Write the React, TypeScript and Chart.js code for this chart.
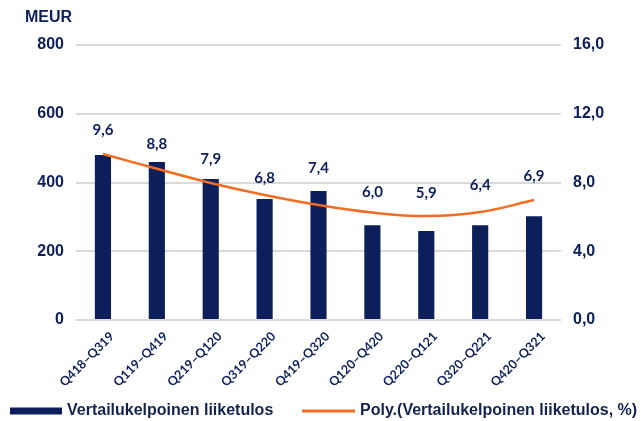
import React, { useEffect, useRef } from 'react';
import { Chart, registerables } from 'chart.js';

Chart.register(...registerables);

const categories = [
  'Q418–Q319',
  'Q119–Q419',
  'Q219–Q120',
  'Q319–Q220',
  'Q419–Q320',
  'Q120–Q420',
  'Q220–Q121',
  'Q320–Q221',
  'Q420–Q321',
];
const liiketulos = [480, 460, 410, 352, 375, 276, 259, 276, 302];
const percentValues = [9.6, 8.8, 7.9, 6.8, 7.4, 6.0, 5.9, 6.4, 6.9];
const polyTrend = [9.66, 8.8, 7.97, 7.27, 6.69, 6.25, 6.05, 6.28, 6.98];
const leftAxis = { min: 0, max: 800, step: 200 };
const rightAxis = { min: 0, max: 16, step: 4 };
const barLabel = 'Vertailukelpoinen liiketulos';
const lineLabel = 'Poly.(Vertailukelpoinen liiketulos, %)';
const unitLabel = 'MEUR';

const NAVY = '#0c1f5b';
const ORANGE = '#f36c21';
const GRID = '#d9d9d9';
const AXIS_FONT = '"Liberation Sans", Arial';

const fmt = (v: number) => v.toFixed(1).replace('.', ',');

const overlayPlugin = {
  id: 'overlay',
  afterDatasetsDraw(chart: any) {
    const { ctx } = chart;
    const x = chart.scales.x;
    const y1 = chart.scales.y1;
    ctx.save();
    ctx.fillStyle = NAVY;
    ctx.font = 'bold 15px Lato';
    ctx.textAlign = 'center';
    ctx.textBaseline = 'middle';
    percentValues.forEach((v, i) => {
      ctx.fillText(fmt(v), x.getPixelForValue(i), y1.getPixelForValue(v) - 25);
    });
    ctx.font = `bold 16px ${AXIS_FONT}`;
    ctx.textAlign = 'left';
    ctx.fillText(unitLabel, 25, 18);

    // legend
    const ly = 411;
    ctx.fillStyle = NAVY;
    ctx.fillRect(10, ly - 3.5, 52, 7);
    ctx.fillStyle = '#14224f';
    ctx.font = `bold 16px ${AXIS_FONT}`;
    ctx.fillText(barLabel, 67, ly);
    ctx.strokeStyle = ORANGE;
    ctx.lineWidth = 3;
    ctx.beginPath();
    ctx.moveTo(302, ly);
    ctx.lineTo(355, ly);
    ctx.stroke();
    ctx.fillText(lineLabel, 360, ly);
    ctx.restore();
  },
};

export default function App() {
  const ref = useRef<HTMLCanvasElement | null>(null);
  useEffect(() => {
    if (!ref.current) return;
    const chart = new Chart(ref.current, {
      type: 'bar',
      data: {
        labels: categories,
        datasets: [
          {
            type: 'bar',
            label: barLabel,
            data: liiketulos,
            backgroundColor: NAVY,
            yAxisID: 'y',
            barPercentage: 0.3,
            categoryPercentage: 1,
            order: 2,
          } as any,
          {
            type: 'line',
            label: lineLabel,
            data: polyTrend,
            borderColor: ORANGE,
            backgroundColor: ORANGE,
            borderWidth: 2.5,
            pointRadius: 0,
            tension: 0.4,
            yAxisID: 'y1',
            order: 1,
          } as any,
        ],
      },
      options: {
        animation: false,
        responsive: true,
        maintainAspectRatio: false,
        layout: { padding: { top: 45, left: 0, right: 0, bottom: 27 } },
        plugins: {
          tooltip: { enabled: false },
          legend: { display: false },
        },
        scales: {
          x: {
            grid: { display: false },
            border: { display: false },
            ticks: {
              color: NAVY,
              font: { family: 'Lato', size: 12.5, weight: 'bold' },
              minRotation: 45,
              maxRotation: 45,
              padding: 1,
              labelOffset: 9,
            },
            afterFit: (s: any) => {
              s.height = 74;
            },
          },
          y: {
            position: 'left',
            min: leftAxis.min,
            max: leftAxis.max,
            grid: { color: GRID, lineWidth: 2, drawTicks: false },
            border: { display: false },
            ticks: {
              stepSize: leftAxis.step,
              color: NAVY,
              padding: 12,
              font: { family: AXIS_FONT, size: 16, weight: 'bold' },
            },
            afterFit: (s: any) => {
              s.width = 76;
            },
          },
          y1: {
            position: 'right',
            min: rightAxis.min,
            max: rightAxis.max,
            grid: { display: false, drawTicks: false },
            border: { display: false },
            ticks: {
              stepSize: rightAxis.step,
              color: NAVY,
              padding: 12,
              font: { family: AXIS_FONT, size: 16, weight: 'bold' },
              callback: (v: any) => fmt(Number(v)),
            },
            afterFit: (s: any) => {
              s.width = 80;
            },
          },
        },
      },
      plugins: [overlayPlugin],
    });
    return () => chart.destroy();
  }, []);
  return (
    <div style={{ position: 'fixed', left: 0, top: 0, width: 641, height: 421, background: '#fff' }}>
      <canvas ref={ref} />
    </div>
  );
}
